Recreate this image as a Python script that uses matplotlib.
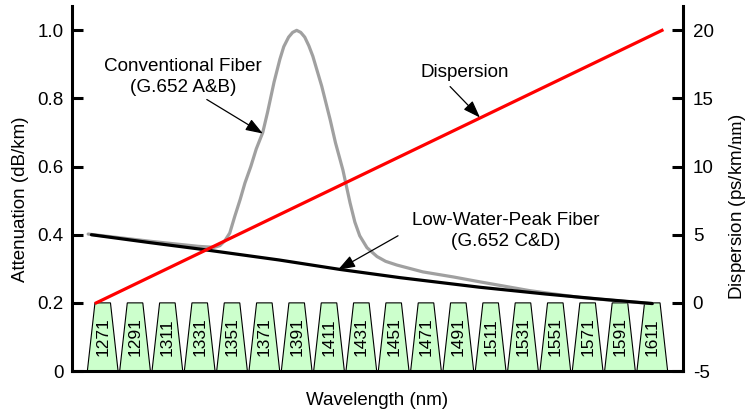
import matplotlib
matplotlib.use("Agg")
from matplotlib import pyplot as plt

plt.rcParams["font.family"] = ["Liberation Sans", "DejaVu Sans"]
plt.rcParams["mathtext.fontset"] = "stix"
plt.rcParams["axes.unicode_minus"] = False

# CWDM channel centres (nm)
channels = [1271, 1291, 1311, 1331, 1351, 1371, 1391, 1411, 1431,
            1451, 1471, 1491, 1511, 1531, 1551, 1571, 1591, 1611]

# Dispersion (ps/km/nm), right axis
disp_wl = [1267, 1617]
disp_val = [0, 20]

# Low-water-peak fibre attenuation (dB/km)
lwp_wl = [1264, 1300, 1331, 1380, 1418, 1455, 1504, 1545, 1579, 1611]
lwp_att = [0.400, 0.377, 0.358, 0.326, 0.298, 0.274, 0.246, 0.226, 0.211, 0.198]

# Conventional fibre attenuation (dB/km), with water peak
conv_wl = [1262, 1300, 1330, 1340, 1343.5, 1346.5, 1349.6, 1352.7, 1356, 1359,
           1362.6, 1366, 1370, 1373, 1377, 1380.6, 1383, 1386, 1388.5, 1391,
           1393.5, 1396, 1398.5, 1401, 1406.5, 1411.7, 1415, 1419.6, 1424, 1427,
           1430, 1434.5, 1440.7, 1446, 1453, 1469, 1488, 1504, 1535, 1566,
           1597, 1611]
conv_att = [0.402, 0.381, 0.366, 0.363, 0.368, 0.382, 0.405, 0.454, 0.503, 0.552,
            0.600, 0.652, 0.700, 0.760, 0.848, 0.915, 0.952, 0.980, 0.994, 1.000,
            0.994, 0.980, 0.955, 0.924, 0.836, 0.738, 0.670, 0.590, 0.494, 0.437,
            0.397, 0.362, 0.336, 0.322, 0.311, 0.291, 0.276, 0.262, 0.236, 0.216,
            0.203, 0.198]

BAR_TOP = 0.2
HALF_BOTTOM = 9.5
HALF_TOP = 4.8

fig = plt.figure(figsize=(7.48, 4.15), dpi=100)
ax = fig.add_axes([72 / 748, 1 - 371 / 415, 611 / 748, 364.5 / 415])
ax2 = ax.twinx()

ax.set_xlim(1252, 1630)
ax.set_ylim(0, 1.07)
ax2.set_ylim(-5, 21.75)

# channel filters as trapezoids
for c in channels:
    xs = [c - HALF_BOTTOM, c - HALF_TOP, c + HALF_TOP, c + HALF_BOTTOM]
    ys = [0, BAR_TOP, BAR_TOP, 0]
    ax.fill(xs, ys, facecolor="#ccffcc", edgecolor="black", lw=0.8, zorder=1)
    ax.text(c, BAR_TOP / 2, str(c), rotation=90, ha="center", va="center",
            fontsize=12.5, zorder=2)

ax.plot(conv_wl, conv_att, color="#a0a0a0", lw=2.3, zorder=3,
        solid_capstyle="round", solid_joinstyle="round")
ax.plot(lwp_wl, lwp_att, color="black", lw=2.3, zorder=4, solid_capstyle="round")
ax2.plot(disp_wl, disp_val, color="#ff0000", lw=2.3, zorder=5)

arrow = dict(arrowstyle="-|>,head_length=0.7,head_width=0.25", color="black",
             lw=0.9, mutation_scale=15, shrinkA=0, shrinkB=0)
ax.annotate("", xy=(1370.1, 0.697), xytext=(1335.4, 0.797), arrowprops=arrow)
ax.text(1320.5, 0.862, "Conventional Fiber\n(G.652 A&B)", ha="center",
        va="center", fontsize=13.6, linespacing=1.3)
ax.annotate("", xy=(1504.4, 0.744), xytext=(1485.9, 0.835), arrowprops=arrow)
ax.text(1495.1, 0.876, "Dispersion", ha="center", va="center", fontsize=13.6)
ax.annotate("", xy=(1416.5, 0.297), xytext=(1453.7, 0.397), arrowprops=arrow)
ax.text(1520.5, 0.41, "Low-Water-Peak Fiber\n(G.652 C&D)", ha="center",
        va="center", fontsize=13.6, linespacing=1.3)

# axes styling
for a in (ax, ax2):
    a.spines["top"].set_visible(False)
    for s in a.spines.values():
        s.set_linewidth(2.2)
ax.spines["right"].set_visible(False)
ax2.spines["left"].set_visible(False)
ax2.spines["bottom"].set_visible(False)

ax.set_xticks([])
ax.set_yticks([0, 0.2, 0.4, 0.6, 0.8, 1.0])
ax.set_yticklabels(["0", "0.2", "0.4", "0.6", "0.8", "1.0"])
ax2.set_yticks([-5, 0, 5, 10, 15, 20])
ax.tick_params(axis="y", direction="in", length=8, width=2.2, labelsize=13.5, pad=6)
ax2.tick_params(axis="y", direction="in", length=8, width=2.2, labelsize=13.5, pad=7)

ax.set_xlabel("Wavelength (nm)", fontsize=13.5)
ax.xaxis.set_label_coords(0.5, -0.058)
ax.set_ylabel("Attenuation (dB/km)", fontsize=13.5)
ax.yaxis.set_label_coords(-0.07, 0.472)
ax2.set_ylabel(r"Dispersion (ps/km/$\mathrm{nm}$)", fontsize=13.5)
ax2.yaxis.set_label_coords(1.072, 0.45)

fig.savefig("out.png", dpi=100)
